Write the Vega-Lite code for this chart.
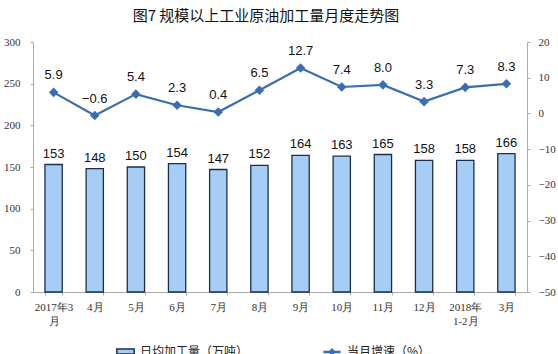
{
  "$schema": "https://vega.github.io/schema/vega-lite/v6.json",
  "width": 494,
  "height": 250,
  "autosize": {"type": "none"},
  "padding": {"left": 33, "top": 42, "right": 31, "bottom": 62},
  "background": "white",
  "title": {"text": "图7  规模以上工业原油加工量月度走势图", "font": "Noto Sans CJK SC", "fontSize": 15, "fontWeight": "normal", "color": "#111", "anchor": "middle", "offset": 12, "dx": -14},
  "config": {"view": {"stroke": null}},
  "data": {"values": [
    {"m": "2017年3|月", "v": 153, "g": 5.9},
    {"m": "4月", "v": 148, "g": -0.6},
    {"m": "5月", "v": 150, "g": 5.4},
    {"m": "6月", "v": 154, "g": 2.3},
    {"m": "7月", "v": 147, "g": 0.4},
    {"m": "8月", "v": 152, "g": 6.5},
    {"m": "9月", "v": 164, "g": 12.7},
    {"m": "10月", "v": 163, "g": 7.4},
    {"m": "11月", "v": 165, "g": 8.0},
    {"m": "12月", "v": 158, "g": 3.3},
    {"m": "2018年|1-2月", "v": 158, "g": 7.3},
    {"m": "3月", "v": 166, "g": 8.3}
  ]},
  "encoding": {
    "x": {"field": "m", "type": "nominal", "sort": null, "scale": {"paddingInner": 0.58, "paddingOuter": 0.29},
      "axis": {"title": null, "labelAngle": 0, "labelExpr": "split(datum.label, '|')", "labelFont": "Liberation Serif", "labelFontSize": 11, "labelColor": "#333", "domainColor": "#aaa", "tickColor": "#aaa", "tickSize": 3, "tickBand": "extent", "labelPadding": 6, "labelLineHeight": 14}}
  },
  "layer": [
    {
      "encoding": {
        "y": {"field": "v", "type": "quantitative", "scale": {"domain": [0, 300]},
          "axis": {"title": null, "values": [0, 50, 100, 150, 200, 250, 300], "grid": false, "labelFont": "Liberation Serif", "labelFontSize": 11, "labelColor": "#333", "domainColor": "#aaa", "tickColor": "#aaa", "tickSize": 3, "labelPadding": 10}}
      },
      "layer": [
        {
          "mark": {"type": "bar", "stroke": "#1c2f4a", "strokeWidth": 1.3},
          "encoding": {
            "fill": {"datum": "日均加工量（万吨）", "type": "nominal", "scale": {"range": ["#a5cdf5"]},
              "legend": {"title": null, "orient": "none", "legendX": 83, "legendY": 300, "symbolType": "M-1,-0.3H1V0.3H-1Z", "symbolSize": 300, "symbolStrokeColor": "#1c2f4a", "symbolStrokeWidth": 1.5, "labelFont": "Noto Sans CJK SC", "labelFontSize": 12, "labelColor": "#222", "labelOffset": 5}}
          }
        },
        {
          "mark": {"type": "text", "baseline": "bottom", "dy": -4, "font": "Liberation Sans", "fontSize": 13, "color": "#111"},
          "encoding": {"text": {"field": "v", "type": "quantitative"}}
        }
      ]
    },
    {
      "encoding": {
        "y": {"field": "g", "type": "quantitative", "scale": {"domain": [-50, 20]},
          "axis": {"title": null, "orient": "right", "values": [-50, -40, -30, -20, -10, 0, 10, 20], "grid": false, "labelFont": "Liberation Serif", "labelFontSize": 11, "labelColor": "#333", "domainColor": "#aaa", "tickColor": "#aaa", "tickSize": 3, "labelPadding": 8}}
      },
      "layer": [
        {
          "mark": {"type": "line", "strokeWidth": 2.2, "point": {"shape": "diamond", "size": 45, "filled": true, "color": "#3a6db3"}},
          "encoding": {
            "stroke": {"datum": "当月增速（%）", "type": "nominal", "scale": {"range": ["#3a6db3"]},
              "legend": {"title": null, "orient": "none", "legendX": 289, "legendY": 300, "symbolType": "M-1,0H1M0,-0.25L0.25,0L0,0.25L-0.25,0Z", "symbolSize": 300, "symbolStrokeWidth": 2.5, "symbolFillColor": "#3a6db3", "labelFont": "Noto Sans CJK SC", "labelFontSize": 12, "labelColor": "#222", "labelOffset": 5}}
          }
        },
        {
          "mark": {"type": "text", "baseline": "bottom", "dy": -10, "font": "Liberation Sans", "fontSize": 13, "color": "#111"},
          "encoding": {"text": {"field": "g", "type": "quantitative", "format": ".1f"}}
        }
      ]
    }
  ],
  "resolve": {"scale": {"y": "independent"}}
}
